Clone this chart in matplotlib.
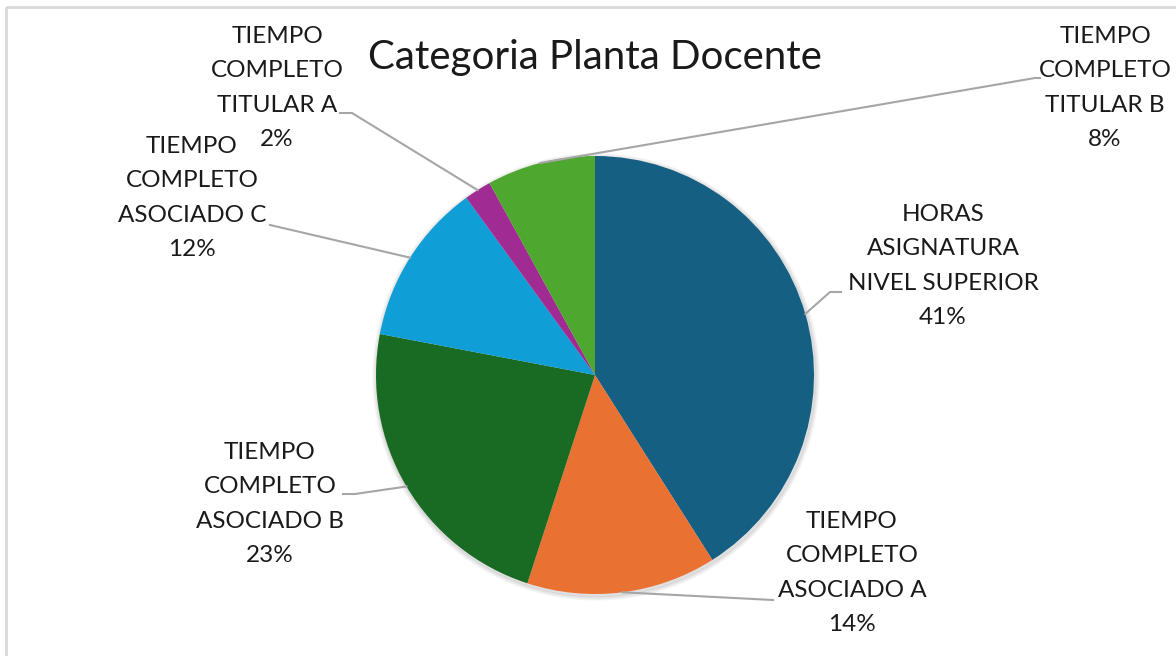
import numpy as np
import matplotlib.pyplot as plt
from matplotlib.patches import Rectangle

# ---------------- #

categorias = ["HORAS\nASIGNATURA\nNIVEL SUPERIOR",
              "TIEMPO\nCOMPLETO\nASOCIADO A",
              "TIEMPO\nCOMPLETO\nASOCIADO B",
              "TIEMPO\nCOMPLETO\nASOCIADO C",
              "TIEMPO\nCOMPLETO\nTITULAR A",
              "TIEMPO\nCOMPLETO\nTITULAR B"]
porcentajes = [41, 14, 23, 12, 2, 8]
colores = ["#156082", "#E97132", "#196B24", "#0F9ED5", "#A02B93", "#4EA72E"]

# posiciones de etiquetas (centro del texto) y codo de la linea guia, en pixeles
etiqueta_xy = [(943, 266), (852, 573), (270, 504), (192, 198), (277, 88), (1105, 88)]
codo_xy = [[(830, 292), (841, 292)],
           [(773, 600)],
           [(355, 494), (343, 494)],
           [(270, 225)],
           [(352, 113), (340, 113)],
           [(1035, 78), (1040, 78)]]

# ---------------- #

W, H = 1176, 656
cx, cy, r = 595, 375, 219

fig = plt.figure(figsize=(W / 100, H / 100), dpi=100)
ax = fig.add_axes([0, 0, 1, 1])

plt.rcParams["font.family"] = ["Lato", "DejaVu Sans"]

# marco del grafico
ax.add_patch(Rectangle((6, 7), W + 20, H + 20, fill=False, edgecolor="#D9D9D9", linewidth=2))

# sombra suave
for k, a in enumerate([0.05, 0.04, 0.03]):
    ax.add_patch(plt.Circle((cx + 1, cy + 2), r + 1 + k * 1.5, color="black", alpha=a, zorder=1))

# y invertido -> counterclock=True gira en sentido horario en pantalla
wedges, _ = ax.pie(porcentajes, colors=colores, startangle=-90, counterclock=True,
                   center=(cx, cy), radius=r, frame=True,
                   wedgeprops=dict(linewidth=0, zorder=2))
ax.set_xlim(0, W)
ax.set_ylim(H, 0)
ax.set_aspect("equal")
ax.axis("off")

for w, nombre, p, (tx, ty), codo in zip(wedges, categorias, porcentajes, etiqueta_xy, codo_xy):
    th = np.deg2rad((w.theta1 + w.theta2) / 2)
    x0, y0 = cx + r * np.cos(th), cy + r * np.sin(th)
    xs = [x0] + [c[0] for c in codo]
    ys = [y0] + [c[1] for c in codo]
    ax.plot(xs, ys, color="#A6A6A6", linewidth=1.5, zorder=3)
    ax.text(tx, ty, nombre + "\n" + f"{p}%", ha="center", va="center",
            fontsize=17.5, color="#1a1a1a", linespacing=1.8, zorder=4)

ax.text(595, 57, "Categoria Planta Docente", ha="center", va="center",
        fontsize=29, color="#1a1a1a")

fig.savefig("out.png", dpi=100)
